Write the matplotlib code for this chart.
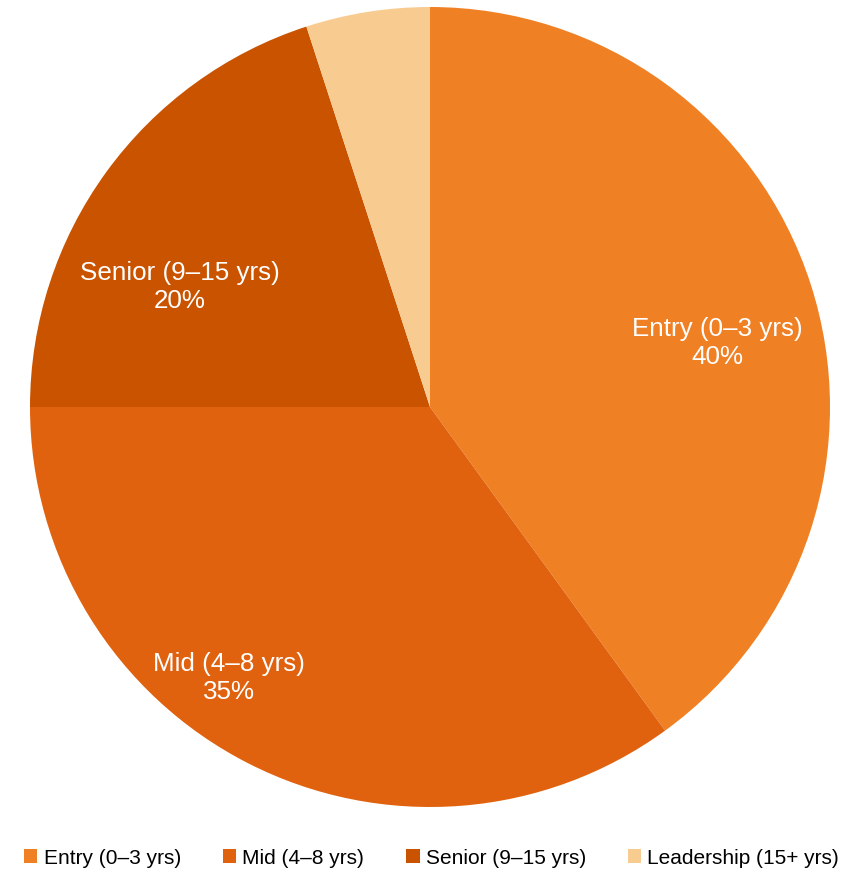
import matplotlib
matplotlib.use("Agg")
import matplotlib.pyplot as plt
from matplotlib.patches import Patch

# experience bands and their share of staff
bands = ["Entry (0–3 yrs)", "Mid (4–8 yrs)", "Senior (9–15 yrs)", "Leadership (15+ yrs)"]
shares = [40, 35, 20, 5]
colors = ["#F08024", "#E0620F", "#CA5300", "#F8CB91"]
# inner label positions (pie data units); the small leadership slice stays unlabeled
label_xy = [(0.7175, 0.16), (-0.5025, -0.6775), (-0.625, 0.30), None]

fig = plt.figure(figsize=(8.58, 8.74), dpi=100)
ax = fig.add_axes([30 / 858, 67 / 874, 800 / 858, 800 / 874])
ax.pie(shares, colors=colors, startangle=90, counterclock=False, radius=1.0,
       wedgeprops=dict(linewidth=0))
ax.set_xlim(-1, 1); ax.set_ylim(-1, 1)
ax.set_aspect("equal")

for name, val, xy in zip(bands, shares, label_xy):
    if xy is None:
        continue
    ax.text(xy[0], xy[1], f"{name}\n{val}%", ha="center", va="center", color="white",
            fontsize=18.7, family=["Liberation Sans", "DejaVu Sans"], linespacing=1.2)

handles = [Patch(facecolor=c, edgecolor="none") for c in colors]
fig.legend(handles, bands, loc="center", bbox_to_anchor=(0.503, 16 / 874), ncol=4,
           frameon=False, handlelength=0.65, handleheight=0.65,
           handletextpad=0.3, columnspacing=2.0,
           prop=dict(family=["Liberation Sans Narrow", "Liberation Sans"], size=15))

fig.savefig("out.png", dpi=100)
